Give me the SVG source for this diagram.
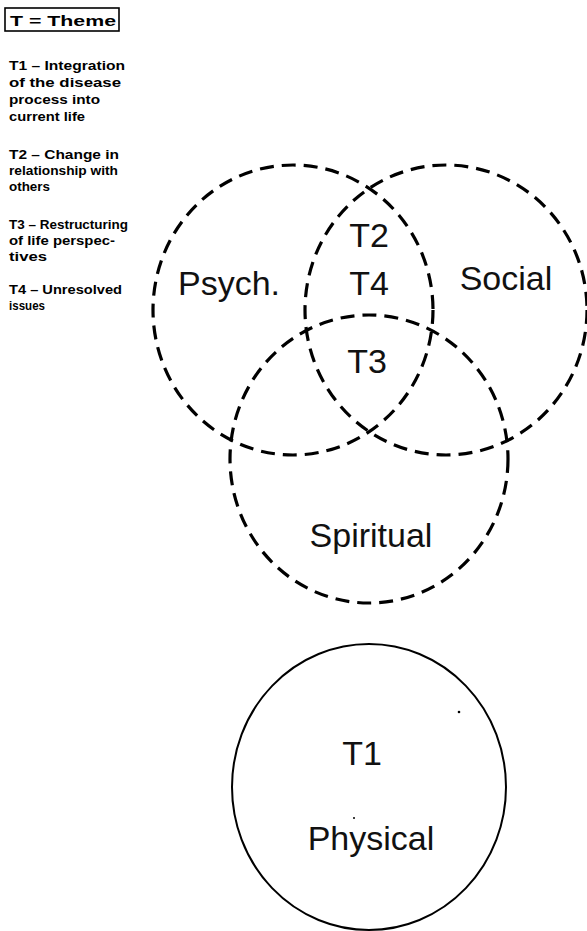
<svg xmlns="http://www.w3.org/2000/svg" width="587" height="931" viewBox="0 0 587 931">
<style>
.venn{fill:none;stroke:#000;stroke-width:3.2;stroke-dasharray:14 8}
.solid{fill:none;stroke:#000;stroke-width:2}
.lbl{font-family:"Liberation Sans",Arial,sans-serif;font-size:34px;fill:#111;text-anchor:middle}
.leg{font-family:"Liberation Sans",Arial,sans-serif;font-size:13px;font-weight:bold;fill:#000}
.key{font-family:"Liberation Sans",Arial,sans-serif;font-size:15px;font-weight:bold;fill:#000}
</style>
<rect width="587" height="931" fill="#fff"/>
<g id="legend">
<rect x="5" y="8" width="114" height="23" fill="none" stroke="#000" stroke-width="1.6"/>
<text class="key" x="10" y="26" textLength="106" lengthAdjust="spacingAndGlyphs">T = Theme</text>
<text class="leg" x="9" y="70" textLength="116" lengthAdjust="spacingAndGlyphs">T1 – Integration</text>
<text class="leg" x="9" y="87" textLength="112" lengthAdjust="spacingAndGlyphs">of the disease</text>
<text class="leg" x="9" y="104" textLength="91" lengthAdjust="spacingAndGlyphs">process into</text>
<text class="leg" x="9" y="121" textLength="76" lengthAdjust="spacingAndGlyphs">current life</text>
<text class="leg" x="9" y="159" textLength="110" lengthAdjust="spacingAndGlyphs">T2 – Change in</text>
<text class="leg" x="9" y="175" textLength="109" lengthAdjust="spacingAndGlyphs">relationship with</text>
<text class="leg" x="9" y="191" textLength="41" lengthAdjust="spacingAndGlyphs">others</text>
<text class="leg" x="9" y="229" textLength="119" lengthAdjust="spacingAndGlyphs">T3 – Restructuring</text>
<text class="leg" x="9" y="245" textLength="106" lengthAdjust="spacingAndGlyphs">of life perspec-</text>
<text class="leg" x="9" y="261" textLength="38" lengthAdjust="spacingAndGlyphs">tives</text>
<text class="leg" x="9" y="294" textLength="113" lengthAdjust="spacingAndGlyphs">T4 – Unresolved</text>
<text class="leg" x="9" y="310" textLength="36" lengthAdjust="spacingAndGlyphs">issues</text>
</g>
<g id="psych">
<ellipse class="venn" cx="293" cy="310" rx="140" ry="145"/>
<text class="lbl" x="229" y="295">Psych.</text>
</g>
<g id="social">
<ellipse class="venn" cx="446" cy="310" rx="141" ry="145"/>
<text class="lbl" x="506" y="290">Social</text>
</g>
<g id="spiritual">
<ellipse class="venn" cx="369" cy="459" rx="139" ry="144"/>
<text class="lbl" x="371" y="547">Spiritual</text>
</g>
<g id="overlap">
<text class="lbl" x="369" y="247">T2</text>
<text class="lbl" x="369" y="295">T4</text>
<text class="lbl" x="367" y="373">T3</text>
</g>
<g id="physical">
<ellipse class="solid" cx="369" cy="787" rx="137" ry="143"/>
<text class="lbl" x="362" y="765">T1</text>
<text class="lbl" x="371" y="850">Physical</text>
<circle cx="459" cy="712" r="1.3" fill="#000"/>
<circle cx="354" cy="818" r="1" fill="#000"/>
</g>
<g id="connectors"/>
</svg>
